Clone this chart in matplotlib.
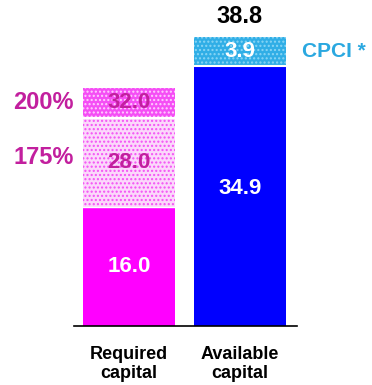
import matplotlib.pyplot as plt

plt.rcParams['font.family'] = ['Liberation Sans', 'DejaVu Sans']
plt.rcParams['hatch.linewidth'] = 1.0

names = ['Required\ncapital', 'Available\ncapital']
req_levels = [16.0, 28.0, 32.0]      # cumulative required capital
req_pct = ['175%', '200%']
avail = 34.9
cpci = 3.9
total = 38.8

magenta = '#FF00FF'
dark_pink = '#C21F9E'
blue = '#0000FF'
cyan = '#2AA8E0'

fig = plt.figure(figsize=(3.72, 3.85), dpi=100)
ax = fig.add_axes([0.199, 0.153, 0.599, 0.812])

w = 0.83
# required capital
ax.bar(0, req_levels[0], width=w, color=magenta, linewidth=0)
ax.bar(0, req_levels[1] - req_levels[0], bottom=req_levels[0], width=w,
       facecolor='#FBD8FB', edgecolor='#F550F5', hatch='....', linewidth=0)
ax.bar(0, req_levels[2] - req_levels[1], bottom=req_levels[1], width=w,
       facecolor='#F54EF5', edgecolor='#FFD0FF', hatch='....', linewidth=0)
ax.plot([-w / 2, w / 2], [req_levels[1], req_levels[1]], color='white', lw=1.5)
ax.plot([-w / 2, w / 2], [req_levels[0], req_levels[0]], color='white', lw=1.0)

# available capital
ax.bar(1, avail, width=w, color=blue, linewidth=0)
ax.bar(1, cpci, bottom=avail, width=w, facecolor='#30AEE6', edgecolor='#8AD6F5',
       hatch='....', linewidth=0)
ax.plot([1 - w / 2, 1 + w / 2], [avail, avail], color='white', lw=1.5)

fs = 16
ax.text(0, req_levels[0] / 2, f'{req_levels[0]:.1f}', ha='center', va='center',
        color='white', fontsize=fs, fontweight='bold')
ax.text(0, (req_levels[0] + req_levels[1]) / 2, f'{req_levels[1]:.1f}', ha='center',
        va='center', color=dark_pink, fontsize=fs, fontweight='bold')
ax.text(0, (req_levels[1] + req_levels[2]) / 2, f'{req_levels[2]:.1f}', ha='center',
        va='center', color=dark_pink, fontsize=fs, fontweight='bold')
ax.text(1, avail / 2 + 1, f'{avail:.1f}', ha='center', va='center',
        color='white', fontsize=fs, fontweight='bold')
ax.text(1, avail + cpci / 2, f'{cpci:.1f}', ha='center', va='center',
        color='white', fontsize=fs, fontweight='bold')
ax.text(1, total + 1.2, f'{total:.1f}', ha='center', va='bottom',
        color='black', fontsize=17, fontweight='bold')

ax.text(-0.5, (req_levels[0] + req_levels[1]) / 2 + 0.6, req_pct[0], ha='right',
        va='center', color=dark_pink, fontsize=17, fontweight='bold')
ax.text(-0.5, (req_levels[1] + req_levels[2]) / 2, req_pct[1], ha='right',
        va='center', color=dark_pink, fontsize=17, fontweight='bold')
ax.text(1.56, avail + cpci / 2, 'CPCI *', ha='left', va='center',
        color=cyan, fontsize=15, fontweight='bold')

ax.set_xlim(-0.495, 1.514)
ax.set_ylim(0, 42)
ax.set_xticks([0, 1])
ax.set_xticklabels(names, fontsize=13, fontweight='bold')
ax.tick_params(axis='x', length=0, pad=14)
ax.set_yticks([])
for s in ['top', 'right', 'left']:
    ax.spines[s].set_visible(False)
ax.spines['bottom'].set_linewidth(1.2)

fig.savefig('out.png', dpi=100)
